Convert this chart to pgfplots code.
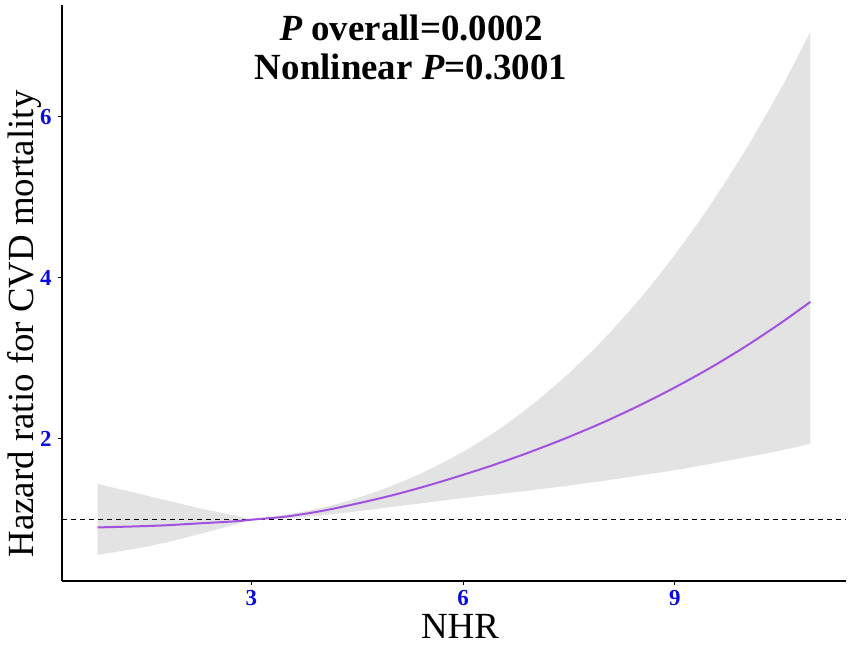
\documentclass[border=0pt]{standalone}
\usepackage{pgfplots}
\pgfplotsset{compat=1.18}
\usepgfplotslibrary{fillbetween}
\usepackage{fontspec}
\setmainfont{Liberation Serif}
\definecolor{tickblue}{RGB}{10,10,225}
\definecolor{curvepurple}{RGB}{160,82,222}
\definecolor{bandgray}{RGB}{227,227,227}
\begin{document}
\begin{tikzpicture}[x=1bp,y=1bp]
\begin{axis}[
  scale only axis,
  width=784bp, height=576bp,
  xmin=0.315, xmax=11.425, ymin=0.235, ymax=7.385,
  axis x line*=bottom, axis y line*=left,
  axis line style={line width=1.4bp,-},
  xtick={3,6,9}, ytick={2,4,6},
  tick align=outside, major tick length=4bp,
  tick style={line width=1bp,black},
  /pgf/number format/assume math mode=true,
  ticklabel style={font=\fontsize{23}{23}\selectfont\bfseries, text=tickblue, inner sep=1bp},
  xticklabel style={yshift=-4bp, text depth=0pt},
  yticklabel style={xshift=-5.3bp},
  clip=false,
]
\addplot[name path=lower, draw=none, smooth] coordinates {
(0.82,0.56) (1.25,0.62) (1.75,0.705) (2.25,0.815) (2.75,0.93) (3.05,0.995)
(3.5,1.01) (4.0,1.05) (4.5,1.10) (5.0,1.155) (5.5,1.21) (6.0,1.265) (6.5,1.315)
(7.0,1.365) (7.5,1.42) (8.0,1.48) (8.5,1.545) (9.0,1.61) (9.5,1.69) (10.0,1.77)
(10.5,1.855) (10.92,1.94)
};
\addplot[name path=upper, draw=none, smooth] coordinates {
(0.82,1.44) (1.25,1.35) (1.75,1.245) (2.25,1.14) (2.75,1.05) (3.05,1.005)
(3.5,1.06) (4.0,1.145) (4.5,1.265) (5.0,1.42) (5.5,1.61) (6.0,1.84) (6.5,2.115)
(7.0,2.44) (7.5,2.815) (8.0,3.245) (8.5,3.735) (9.0,4.285) (9.5,4.90) (10.0,5.585)
(10.5,6.345) (10.92,7.05)
};
\addplot[bandgray, draw=none] fill between[of=upper and lower];
\addplot[black, line width=1.1bp, dash pattern=on 5bp off 4bp] coordinates {(0.315,1) (11.425,1)};
\addplot[curvepurple, line width=2bp, smooth] coordinates {
(0.82,0.90) (1.25,0.91) (1.75,0.925) (2.25,0.95) (2.75,0.975) (3.05,1.0)
(3.5,1.036) (4.0,1.105) (4.5,1.197) (5.0,1.30) (5.5,1.42) (6.0,1.553) (6.5,1.696)
(7.0,1.853) (7.5,2.024) (8.0,2.21) (8.5,2.415) (9.0,2.638) (9.5,2.88) (10.0,3.146)
(10.5,3.437) (10.92,3.70)
};
\end{axis}
\node[font=\fontsize{37}{37}\selectfont, inner sep=0pt] at (398,-45) {NHR};
\node[font=\fontsize{37}{37}\selectfont, rotate=90] at (-37,257) {Hazard ratio for CVD mortality};
\node[font=\fontsize{37}{37}\selectfont\bfseries] at (349,553) {\textit{P} overall=0.0002};
\node[font=\fontsize{37}{37}\selectfont\bfseries] at (349,514) {Nonlinear \textit{P}=0.3001};
\pgfresetboundingbox
\path[use as bounding box] (-62,-65) rectangle (789,581);
\end{tikzpicture}
\end{document}
